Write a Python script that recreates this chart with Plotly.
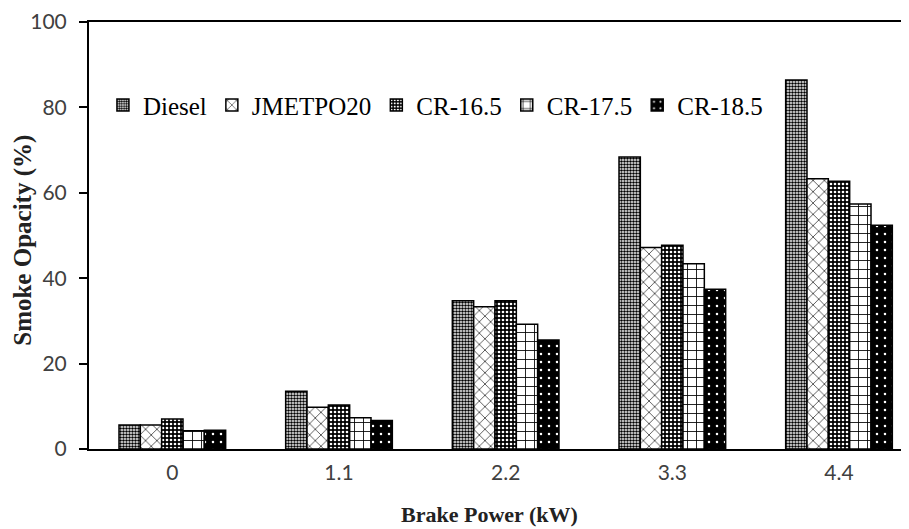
import plotly.graph_objects as go

categories = ["0", "1.1", "2.2", "3.3", "4.4"]
series_names = ["Diesel", "JMETPO20", "CR-16.5", "CR-17.5", "CR-18.5"]
diesel = [5.6, 13.5, 34.7, 68.4, 86.4]
jmetpo20 = [5.6, 9.8, 33.3, 47.2, 63.3]
cr165 = [7.0, 10.3, 34.7, 47.7, 62.7]
cr175 = [4.3, 7.3, 29.2, 43.4, 57.4]
cr185 = [4.4, 6.7, 25.5, 37.4, 52.4]
y_ticks = [0, 20, 40, 60, 80, 100]

values = [diesel, jmetpo20, cr165, cr175, cr185]
patterns = [
    dict(shape=".", fgcolor="black", bgcolor="white", size=3, solidity=0.55),
    dict(shape="x", fgcolor="black", bgcolor="white", size=8, solidity=0.15),
    dict(shape=".", fgcolor="white", bgcolor="black", size=4, solidity=0.35),
    dict(shape="+", fgcolor="black", bgcolor="white", size=9, solidity=0.18),
    dict(shape=".", fgcolor="white", bgcolor="black", size=8, solidity=0.08),
]

fig = go.Figure()
for name, vals, pat in zip(series_names, values, patterns):
    fig.add_trace(go.Bar(
        x=categories, y=vals, name=name,
        marker=dict(color="white", line=dict(color="black", width=1.5),
                    pattern=dict(fillmode="replace", **pat)),
    ))

fig.update_layout(
    width=901, height=521,
    paper_bgcolor="white", plot_bgcolor="white",
    margin=dict(l=81, r=0, t=11, b=80),
    barmode="group", bargap=0.36, bargroupgap=0,
    showlegend=True,
    legend=dict(orientation="h", x=0.017, y=0.805, xanchor="left", yanchor="middle",
                font=dict(family="Liberation Serif", size=25, color="black"),
                bgcolor="rgba(0,0,0,0)", itemwidth=30, tracegroupgap=0),
    xaxis=dict(type="category", range=[-0.5, 4.42], showline=True, mirror=True,
               linecolor="black", linewidth=2, ticks="", showgrid=False,
               tickfont=dict(family="Lato", size=21, color="#404040"),
               ticklabelstandoff=4),
    yaxis=dict(range=[0, 100], tickvals=y_ticks, showline=True, linecolor="black",
               linewidth=2, ticks="outside", ticklen=8, tickwidth=2, tickcolor="black",
               showgrid=False, zeroline=False, ticklabelstandoff=8,
               ticklabeloverflow="allow",
               tickfont=dict(family="Lato", size=21, color="#404040")),
    annotations=[
        dict(text="<b>Brake Power (kW)</b>", xref="paper", yref="paper",
             x=0.489, y=-0.153, xanchor="center", yanchor="middle", showarrow=False,
             font=dict(family="Liberation Serif", size=22, color="#222")),
        dict(text="<b>Smoke Opacity (%)</b>", xref="paper", yref="paper",
             x=-0.0805, y=0.49, xanchor="center", yanchor="middle", showarrow=False,
             textangle=-90, font=dict(family="Liberation Serif", size=25, color="#222")),
    ],
)

fig.write_html("out.html")
